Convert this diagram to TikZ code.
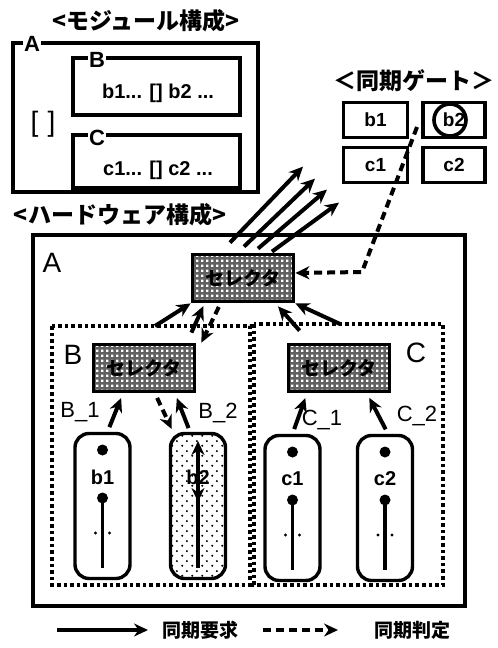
\documentclass[tikz,border=0pt]{standalone}
\usepackage{fontspec}
\setmainfont{Liberation Sans}
\newfontfamily\jpfont{Noto Sans CJK JP}
\usetikzlibrary{arrows.meta,calc,patterns}

% セレクタの網目と葉ノードの点
\pgfdeclarepatternformonly{selmesh}{\pgfpointorigin}{\pgfpoint{5pt}{5pt}}{\pgfpoint{5pt}{5pt}}{%
  \pgfpathrectangle{\pgfpoint{1.4pt}{1.4pt}}{\pgfpoint{2.6pt}{2.6pt}}\pgfusepath{fill}}
\pgfdeclarepatternformonly{sparsedots}{\pgfpointorigin}{\pgfpoint{10pt}{10pt}}{\pgfpoint{10pt}{10pt}}{%
  \pgfpathcircle{\pgfpoint{2.5pt}{2.5pt}}{1.2pt}\pgfpathcircle{\pgfpoint{7.5pt}{7.5pt}}{1.2pt}\pgfusepath{fill}}

\tikzset{
  box/.style={draw, line width=3.6pt},
  grp/.style={draw, line width=4pt, dash pattern=on 3.6pt off 3pt},
  lbl/.style={fill=white, inner sep=1pt, font=\bfseries\fontsize{22}{22}\selectfont},
  biglbl/.style={inner sep=0pt, font=\fontsize{28}{28}\selectfont},
  mtext/.style={inner sep=0pt, font=\bfseries\fontsize{20}{20}\selectfont},
  leaf/.style={inner sep=0pt, font=\bfseries\fontsize{20}{20}\selectfont},
  arm/.style={inner sep=0pt, font=\fontsize{22}{22}\selectfont},
  jptitle/.style={inner sep=0pt, font=\jpfont\bfseries\fontsize{23}{23}\selectfont},
  jplegend/.style={inner sep=0pt, font=\jpfont\bfseries\fontsize{19}{19}\selectfont},
  gate/.style={draw, line width=3.6pt, minimum width=64pt, minimum height=35pt, inner sep=0pt,
    font=\bfseries\fontsize{19}{19}\selectfont},
  selbox/.style={draw, line width=3.8pt, minimum width=101pt, minimum height=47pt, inner sep=0pt,
    preaction={fill=black!62}, pattern=selmesh, pattern color=white,
    font=\jpfont\bfseries\fontsize{19}{19}\selectfont},
  capsule/.style={draw, line width=3.4pt, rounded corners=14pt, minimum width=55pt,
    minimum height=145pt, inner sep=0pt},
  req/.style={-{Stealth[length=14pt,width=13pt]}, line width=4pt},
  judge/.style={req, dash pattern=on 8pt off 5pt},
}

\begin{document}
\begin{tikzpicture}[x=1pt, y=-1pt]
  \useasboundingbox (0,0) rectangle (498,648);

  % モジュール構成
  \node[jptitle] (modtitle) at (146,21) {<モジュール構成>};
  \draw[box] (13,43) rectangle (258,192);
  \node[lbl] (mA) at (32,44) {A};
  \node[biglbl] (mbr) at (43,124) {[\,\,]};
  \draw[box] (73,58) rectangle (240,115);
  \node[lbl] (mB) at (97,60) {B};
  \node[mtext] (mBtxt) at (158,93) {b1... [] b2 ...};
  \draw[box] (73,135) rectangle (240,188);
  \node[lbl] (mC) at (97,138) {C};
  \node[mtext] (mCtxt) at (158,170) {c1... [] c2 ...};

  % 同期ゲート
  \node[jptitle] (gtitle) at (414,81) {＜同期ゲート＞};
  \node[gate] (gb1) at (375.5,120) {b1};
  \node[gate, minimum width=62pt] (gb2) at (454,120) {b2};
  \node[gate] (gc1) at (375.5,165) {c1};
  \node[gate, minimum width=62pt] (gc2) at (454,165) {c2};
  \draw[line width=3.6pt] ($(gb2)+(-4,0)$) circle (16pt);

  % ハードウェア構成
  \node[jptitle] (hwtitle) at (120,215) {<ハードウェア構成>};
  \draw[box] (33,235) rectangle (465,606);
  \node[biglbl] (hA) at (52,263) {A};
  \node[selbox] (tsel) at (243,278) {セレクタ};

  % 外への同期要求
  \foreach \sx/\sy/\dx/\dy in {-13/-10/73/-76, 1/-6/71/-68, 15/-4/69/-59, 29/-1/67/-49}
    \draw[req] ([shift={(\sx,\sy)}]tsel.north) -- ++(\dx,\dy);

  % ゲートからの同期判定
  \coordinate (gsrc) at (417,127);
  \coordinate (gbend) at (362,272);
  \draw[judge] (gsrc) -- (gbend) -- ([yshift=5pt]tsel.east);

  % グループ B, C
  \draw[grp] (52,326) rectangle (250,585);
  \draw[grp] (254,324) rectangle (443,585);
  \node[biglbl] (hB) at (73,355) {B};
  \node[biglbl] (hC) at (416,353) {C};
  \node[selbox] (selB) at (144,368) {セレクタ};
  \node[selbox] (selC) at (339,368) {セレクタ};

  \coordinate (grpB) at (155,326);
  \coordinate (grpC) at (340,324);
  \draw[req] (grpB) -- (tsel.south west);
  \draw[req] (grpC) -- (tsel.south east);
  \draw[req, shorten >=3pt] ([shift={(-5,-10)}]selB.north east) -- ([xshift=14pt]tsel.south west);
  \draw[judge, shorten <=4pt] ([xshift=30pt]tsel.south west) -- ([xshift=5pt]selB.north east);
  \draw[req, shorten >=4pt] ([shift={(13,-12)}]selC.north west) -- ([xshift=-20pt]tsel.south east);

  % 葉ノード
  \node[capsule] (cb1) at (102.5,506) {};
  \node[capsule, pattern=sparsedots] (cb2) at (198,506) {};
  \node[capsule] (cc1) at (292.5,508) {};
  \node[capsule] (cc2) at (385,508) {};

  \foreach \c/\t in {cb1/b1, cc1/c1, cc2/c2} {
    \fill ($(\c)+(0,-56)$) circle (5.5pt);
    \node[leaf] (\c-t) at ($(\c)+(0,-29)$) {\t};
    \fill ($(\c)+(0,-8)$) circle (5.5pt);
    \draw[line width=3.6pt] ($(\c)+(0,-8)$) -- ($(\c)+(0,62)$);
    \fill ($(\c)+(-7,27)$) circle (1.7pt) ($(\c)+(7,27)$) circle (1.7pt);
  }
  \node[leaf] (cb2-t) at ($(cb2)+(0,-29)$) {b2};
  \draw[req] ($(cb2)+(0,62)$) -- ($(cb2)+(0,-65)$);
  \draw[req] ($(cb2)+(0,-22)$) -- ($(cb2)+(0,-4)$);

  % 葉からセレクタへ
  \draw[req, shorten <=5pt, shorten >=5pt] ([xshift=5pt]cb1.north) -- ([xshift=-21pt]selB.south);
  \node[arm] (lB1) at (80,412) {B\_1};
  \draw[req, shorten <=4pt, shorten >=5pt] ([xshift=-8pt]cb2.north) -- ([xshift=31pt]selB.south);
  \draw[judge, shorten <=5pt, shorten >=3pt] ([xshift=11pt]selB.south) -- ([xshift=-25pt]cb2.north);
  \node[arm] (lB2) at (218,413) {B\_2};
  \draw[req, shorten <=5pt, shorten >=5pt] (cc1.north) -- ([xshift=-32pt]selC.south);
  \node[arm] (lC1) at (322,420) {C\_1};
  \draw[req, shorten <=5pt, shorten >=5pt] ([xshift=3pt]cc2.north) -- ([xshift=28pt]selC.south);
  \node[arm] (lC2) at (417,416) {C\_2};

  % 凡例
  \coordinate (lg1) at (57,630);
  \coordinate (lg2) at (148,630);
  \node[jplegend] (lreq) at (200,630) {同期要求};
  \coordinate (lg3) at (263,630);
  \coordinate (lg4) at (338,630);
  \node[jplegend] (ljdg) at (412,630) {同期判定};
  \draw[req] (lg1) -- (lg2);
  \draw[judge] (lg3) -- (lg4);
\end{tikzpicture}
\end{document}
